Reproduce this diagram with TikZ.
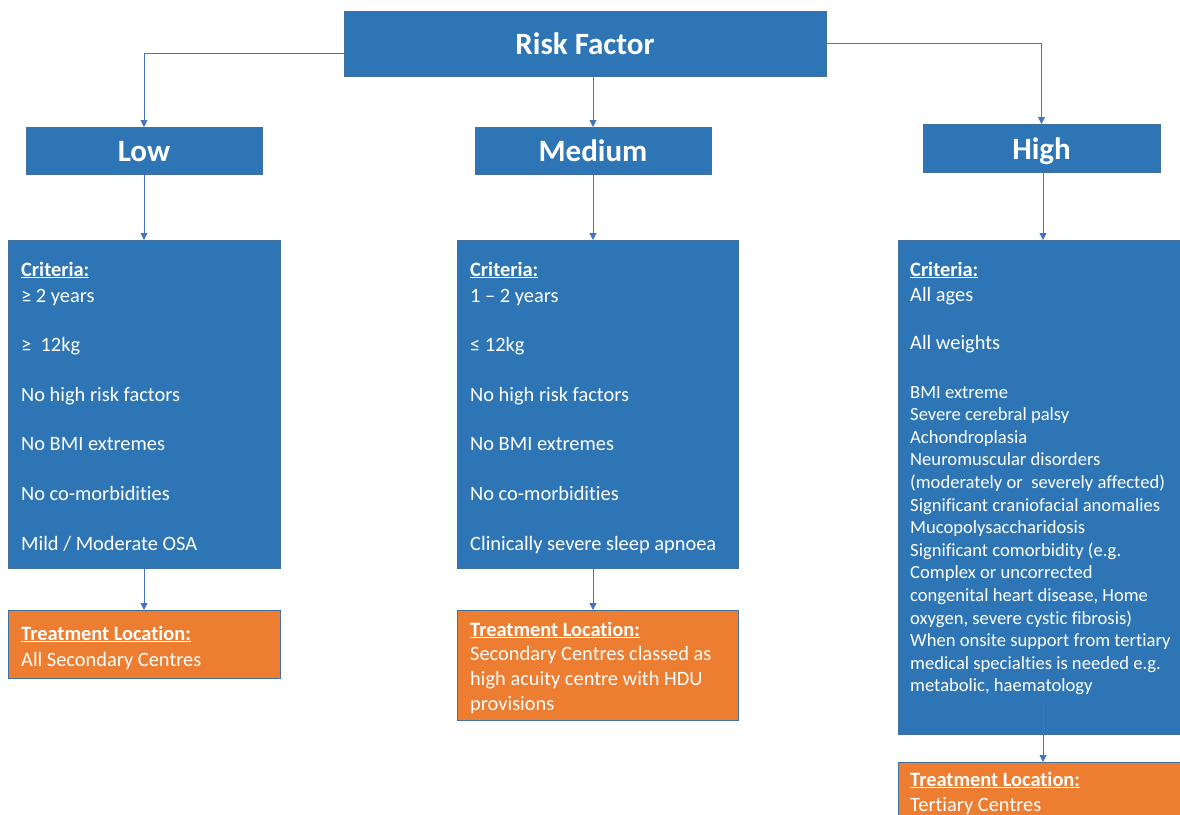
\documentclass[tikz,border=0pt]{standalone}
\usepackage{fontspec}
\setmainfont{Carlito}[Ligatures=NoCommon]
\usetikzlibrary{arrows.meta}
\definecolor{boxblue}{HTML}{2E75B6}
\definecolor{boxedge}{HTML}{41719C}
\definecolor{boxorange}{HTML}{ED7D31}
\definecolor{arrowblue}{HTML}{4472C4}
\newcommand{\listsize}{\fontsize{18.6}{22.6}\selectfont}
\begin{document}
\begin{tikzpicture}[x=1pt,y=-1pt,
  bluebox/.style={draw=boxedge, line width=0.8pt, fill=boxblue, inner sep=0pt, outer sep=0pt},
  orangebox/.style={draw=boxedge, line width=0.8pt, fill=boxorange, inner sep=0pt, outer sep=0pt},
  titletext/.style={text=white, font=\fontsize{31}{37}\selectfont\bfseries, text height=22.6pt, text depth=0pt},
  bodytext/.style={text=white, font=\fontsize{20.4}{24.8}\selectfont, align=left, anchor=north west, inner sep=0pt},
  hightext/.style={text=white, font=\fontsize{20.4}{22.6}\selectfont, align=left, anchor=north west, inner sep=0pt},
  conn/.style={draw=arrowblue, line width=0.9pt, -{Triangle[width=7pt,length=7pt]}}
]
\useasboundingbox (0,0) rectangle (1180,814);
\clip (0,0) rectangle (1180,814);
\fill[white] (0,0) rectangle (1180,814);

% level boxes
\node[bluebox, titletext, minimum width=482pt, minimum height=65pt] (risk) at (585,43.5) {Risk Factor};
\node[bluebox, titletext, minimum width=236pt, minimum height=47pt] (low) at (144,150.5) {Low};
\node[bluebox, titletext, minimum width=236pt, minimum height=47pt] (med) at (593,150.5) {Medium};
\node[bluebox, titletext, minimum width=237pt, minimum height=48pt] (high) at (1041.5,148) {High};

% criteria boxes
\node[bluebox, minimum width=272pt, minimum height=328pt] (lowc) at (144,404) {};
\node[bluebox, minimum width=281pt, minimum height=328pt] (medc) at (597.5,404) {};
\node[bluebox, minimum width=284pt, minimum height=494pt] (highc) at (1040,487) {};

% treatment boxes
\node[orangebox, minimum width=272pt, minimum height=68pt] (lowt) at (144,644) {};
\node[orangebox, minimum width=281pt, minimum height=110pt] (medt) at (597.5,665) {};
\node[orangebox, minimum width=284pt, minimum height=68pt] (hight) at (1040,796) {};

% texts
\node[bodytext] (lowctext) at (21,261.5) {\underline{\textbf{Criteria:}}\\[1.2pt]
≥ 2 years\\[24.8pt]
≥~ 12kg\\[24.8pt]
No high risk factors\\[24.8pt]
No BMI extremes\\[24.8pt]
No co-morbidities\\[24.8pt]
Mild / Moderate OSA};

\node[bodytext] (medctext) at (470,261.5) {\underline{\textbf{Criteria:}}\\[1.2pt]
1 – 2 years\\[24.8pt]
≤ 12kg\\[24.8pt]
No high risk factors\\[24.8pt]
No BMI extremes\\[24.8pt]
No co-morbidities\\[24.8pt]
Clinically severe sleep apnoea};

\node[hightext] (highctext) at (910,261.5) {\underline{\textbf{Criteria:}}\\[2.4pt]
All ages\\[25.4pt]
All weights\\[26.4pt]
{\listsize BMI extreme}\\
{\listsize Severe cerebral palsy}\\
{\listsize Achondroplasia}\\
{\listsize Neuromuscular disorders}\\
{\listsize (moderately or~ severely affected)}\\
{\listsize Significant craniofacial anomalies}\\
{\listsize Mucopolysaccharidosis}\\
{\listsize Significant comorbidity (e.g.}\\
{\listsize Complex or uncorrected}\\
{\listsize congenital heart disease, Home}\\
{\listsize oxygen, severe cystic fibrosis)}\\
{\listsize When onsite support from tertiary}\\
{\listsize medical specialties is needed e.g.}\\
{\listsize metabolic, haematology}};

\node[bodytext] (lowttext) at (21,625.5) {\underline{\textbf{Treatment Location:}}\\[1.2pt]
All Secondary Centres};
\node[bodytext, font=\fontsize{20.4}{24.7}\selectfont] (medttext) at (470,621.5) {\underline{\textbf{Treatment Location:}}\\
Secondary Centres classed as\\
high acuity centre with HDU\\
provisions};
\node[bodytext] (highttext) at (910,771.5) {\underline{\textbf{Treatment Location:}}\\[0.2pt]
Tertiary Centres};

% connectors
\draw[conn] ([yshift=-9.5pt]risk.west) -| (low.north);
\draw[conn] (risk.east) -| (high.north);
\draw[conn] (risk.south -| med.north) -- (med.north);
\draw[conn] (low.south) -- (lowc.north);
\draw[conn] (med.south) -- (med.south |- medc.north);
\draw[conn] ([xshift=1.5pt]high.south) -- ([xshift=1.5pt]high.south |- highc.north);
\draw[conn] (lowc.south) -- (lowt.north);
\draw[conn] (medc.south -| med.south) -- (medt.north -| med.south);
\coordinate (hstart) at (1043,705);
\draw[conn] (hstart) -- (hstart |- hight.north);
\end{tikzpicture}
\end{document}
